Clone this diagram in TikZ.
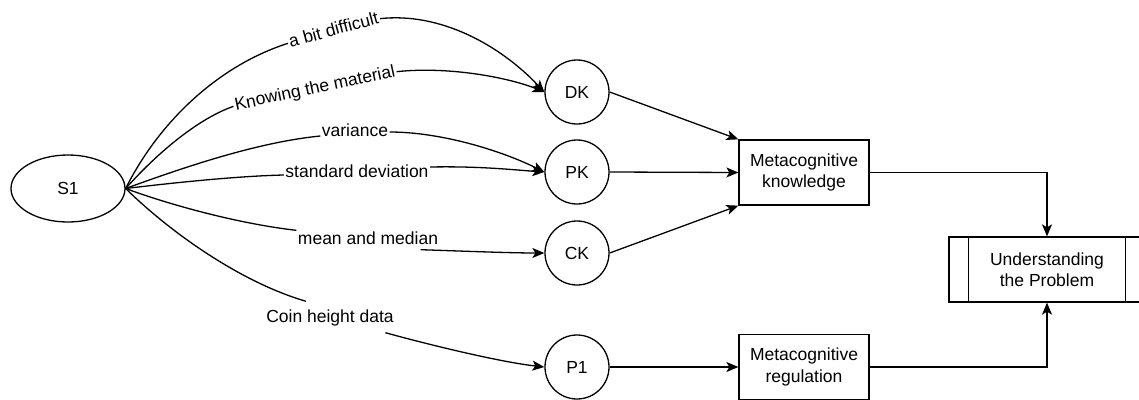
\documentclass[tikz,border=0pt]{standalone}
\usepackage{fontspec}
\setmainfont{Liberation Sans}
\usetikzlibrary{arrows.meta,shapes.geometric}

\begin{document}
\begin{tikzpicture}[x=1pt,y=-1pt,
  font=\fontsize{17.5}{21.5}\selectfont,
  line width=1.3pt,
  arr/.style={-{Stealth[length=12pt,width=10pt,inset=3pt]}},
  state/.style={circle, draw, minimum size=64pt, inner sep=0pt},
  box/.style={rectangle, draw, minimum width=130pt, minimum height=65pt,
    inner sep=0pt, align=center},
  lbl/.style={inner sep=1pt, text height=12.6pt, text depth=3.5pt},
]
\useasboundingbox (0,0) rectangle (1139,399);

% source and codes
\node[ellipse, draw, minimum width=114pt, minimum height=67pt, inner sep=0pt] (s1) at (68,188.5) {S1};
\node[state] (dk) at (577,92) {DK};
\node[state] (pk) at (577,172) {PK};
\node[state] (ck) at (577,253) {CK};
\node[state] (p1) at (577,367) {P1};

% categories
\node[box] (mk) at (804,172.5) {Metacognitive\\knowledge};
\node[box] (mr) at (804,367) {Metacognitive\\regulation};
\node[box, minimum width=196pt] (up) at (1047,269.5) {Understanding\\the Problem};
\draw ([xshift=20pt]up.north west) -- ([xshift=20pt]up.south west);
\draw ([xshift=-20pt]up.north east) -- ([xshift=-20pt]up.south east);

% edge labels
\node[lbl, rotate=15] (la) at (334,31) {a bit difficult};
\node[lbl, rotate=12] (lb) at (315,89) {Knowing the material};
\node[lbl] (lc) at (355,132) {variance};
\node[lbl] (ld) at (357,173) {standard deviation};
\node[lbl] (le) at (368,240) {mean and median};
\node[lbl] (lf) at (330,318) {Coin height data};

% S1 to codes
\draw (s1.east) .. controls (160,120) and (220,65) .. (la.west);
\draw[arr] (la.east) .. controls (440,12) and (500,45) .. (dk.west);

\draw (s1.east) .. controls (160,150) and (200,118) .. (lb.west);
\draw[arr] (lb.east) .. controls (450,66) and (510,78) .. (dk.west);

\draw (s1.east) .. controls (190,165) and (260,142) .. ([yshift=-4pt]lc.west);
\draw[arr] (lc.east) .. controls (440,132) and (500,150) .. (pk.west);

\draw (s1.east) .. controls (180,182) and (240,176) .. ([yshift=-2pt]ld.west);
\draw[arr] ([yshift=6pt]ld.east) .. controls (480,166) and (515,170) .. (pk.west);

\draw (s1.east) .. controls (170,205) and (240,224) .. (le.north west);
\draw[arr] ([xshift=-19pt]le.south east) .. controls (460,251) and (510,253) .. (ck.west);

\draw (s1.east) .. controls (170,232) and (240,282) .. ([xshift=-24pt,yshift=7pt]lf.north);
\draw[arr] ([xshift=-10pt,yshift=-5pt]lf.south east) .. controls (430,345) and (500,362) .. (p1.west);

% codes to categories
\draw[arr] (dk.east) -- (mk.north west);
\draw[arr] (pk.east) -- (mk.west);
\draw[arr] (ck.east) -- (mk.south west);
\draw[arr] (p1.east) -- (mr.west);

% categories to outcome
\draw[arr] (mk.east) -| (up.north);
\draw[arr] (mr.east) -| (up.south);
\end{tikzpicture}
\end{document}
